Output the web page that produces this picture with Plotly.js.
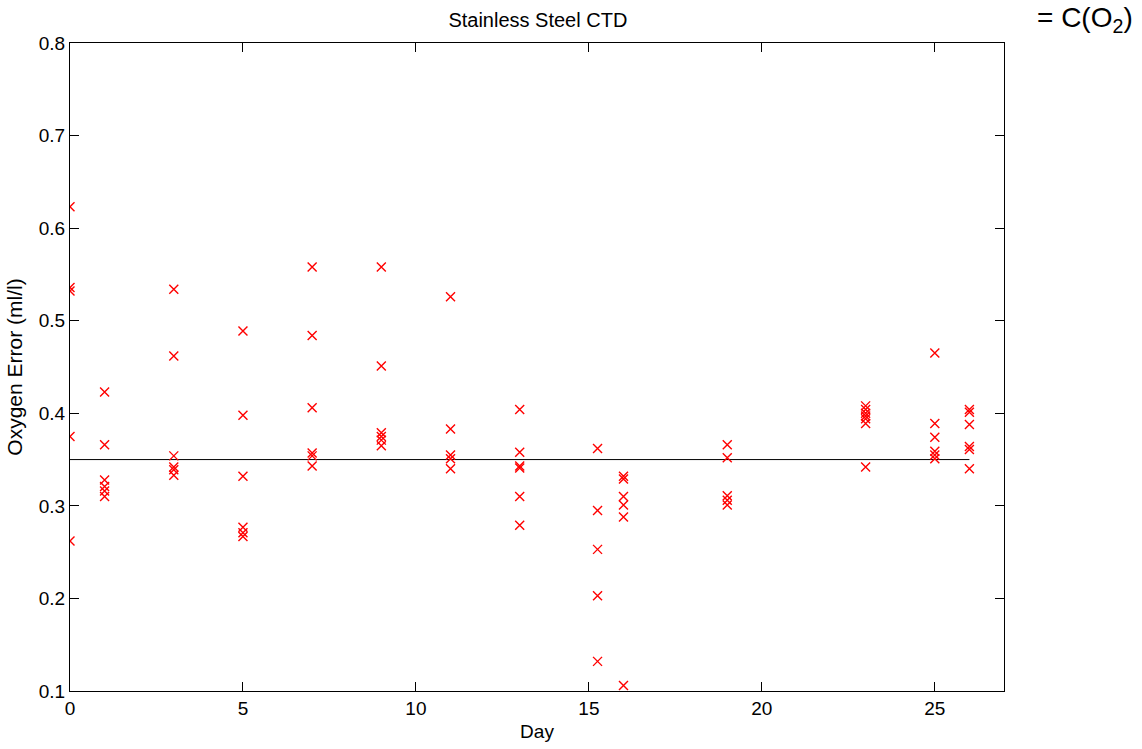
<!DOCTYPE html>
<html>
<head>
<meta charset="utf-8">
<script src="https://cdn.plot.ly/plotly-3.0.1.min.js"></script>
<style>
  html, body { margin: 0; padding: 0; background: #fff; }
  #chart { width: 1142px; height: 749px; }
</style>
</head>
<body>
<div id="chart"></div>
<script>
// Sampling day of each bottle comparison
const days = [
  0, 0, 0, 0, 0,
  1, 1, 1, 1, 1, 1,
  3, 3, 3, 3, 3, 3,
  5, 5, 5, 5, 5, 5,
  7, 7, 7, 7, 7, 7,
  9, 9, 9, 9, 9, 9,
  11, 11, 11, 11, 11,
  13, 13, 13, 13, 13, 13,
  15.25, 15.25, 15.25, 15.25, 15.25,
  16, 16, 16, 16, 16, 16,
  19, 19, 19, 19, 19,
  23, 23, 23, 23, 23, 23, 23,
  25, 25, 25, 25, 25, 25,
  26, 26, 26, 26, 26, 26
];

// Oxygen error (ml/l) for each comparison
const oxygenError = [
  0.623, 0.536, 0.532, 0.375, 0.262,
  0.423, 0.366, 0.328, 0.321, 0.316, 0.310,
  0.534, 0.462, 0.354, 0.342, 0.339, 0.333,
  0.489, 0.398, 0.332, 0.277, 0.271, 0.267,
  0.558, 0.484, 0.406, 0.357, 0.354, 0.343,
  0.558, 0.451, 0.379, 0.375, 0.371, 0.365,
  0.526, 0.383, 0.355, 0.351, 0.340,
  0.404, 0.358, 0.343, 0.341, 0.310, 0.279,
  0.362, 0.295, 0.253, 0.203, 0.132,
  0.332, 0.329, 0.310, 0.301, 0.288, 0.106,
  0.366, 0.352, 0.311, 0.306, 0.301,
  0.408, 0.404, 0.400, 0.397, 0.394, 0.389, 0.342,
  0.465, 0.389, 0.374, 0.359, 0.355, 0.351,
  0.404, 0.401, 0.388, 0.364, 0.361, 0.340
];

// Reference level drawn across the sampling period
const refDays = [0, 26];
const refLevel = [0.35, 0.35];

const xTicks = [0, 5, 10, 15, 20, 25];
const yTicks = [0.1, 0.2, 0.3, 0.4, 0.5, 0.6, 0.7, 0.8];

const fontFamily = 'Liberation Sans, Arial, Helvetica, sans-serif';

const traces = [
  {
    x: refDays,
    y: refLevel,
    mode: 'lines',
    line: { color: '#000000', width: 1 },
    hoverinfo: 'skip',
    showlegend: false
  },
  {
    x: days,
    y: oxygenError,
    mode: 'markers',
    marker: {
      symbol: 'x-thin',
      size: 9,
      color: '#ff0000',
      line: { color: '#ff0000', width: 1.4 }
    },
    showlegend: false
  }
];

const axisCommon = {
  showgrid: false,
  zeroline: false,
  showline: true,
  linecolor: '#000000',
  linewidth: 1,
  mirror: 'ticks',
  ticks: 'inside',
  ticklen: 9,
  tickwidth: 1,
  tickcolor: '#000000',
  tickfont: { family: fontFamily, size: 19, color: '#000000' }
};

const layout = {
  width: 1142,
  height: 749,
  margin: { l: 70, r: 138, t: 43, b: 58 },
  paper_bgcolor: '#ffffff',
  plot_bgcolor: '#ffffff',
  font: { family: fontFamily, color: '#000000' },
  title: {
    text: 'Stainless Steel CTD',
    font: { family: fontFamily, size: 20, color: '#000000' },
    x: 0.471,
    xanchor: 'center',
    y: 0.973,
    yanchor: 'middle'
  },
  xaxis: Object.assign({}, axisCommon, {
    range: [0, 27],
    tickvals: xTicks,
    ticktext: xTicks.map(String),
    title: { text: 'Day', font: { family: fontFamily, size: 19, color: '#000000' }, standoff: 6 }
  }),
  yaxis: Object.assign({}, axisCommon, {
    range: [0.1, 0.8],
    tickvals: yTicks,
    ticktext: yTicks.map(v => v.toFixed(1)),
    title: { text: 'Oxygen Error (ml/l)', font: { family: fontFamily, size: 21, color: '#000000' }, standoff: 10 }
  }),
  annotations: [
    {
      text: '= C(O<sub>2</sub>)',
      xref: 'paper',
      yref: 'paper',
      x: 1.140,
      y: 1.037,
      xanchor: 'right',
      yanchor: 'middle',
      showarrow: false,
      font: { family: fontFamily, size: 28, color: '#000000' }
    }
  ]
};

Plotly.newPlot('chart', traces, layout, { staticPlot: true, displayModeBar: false });
</script>
</body>
</html>
